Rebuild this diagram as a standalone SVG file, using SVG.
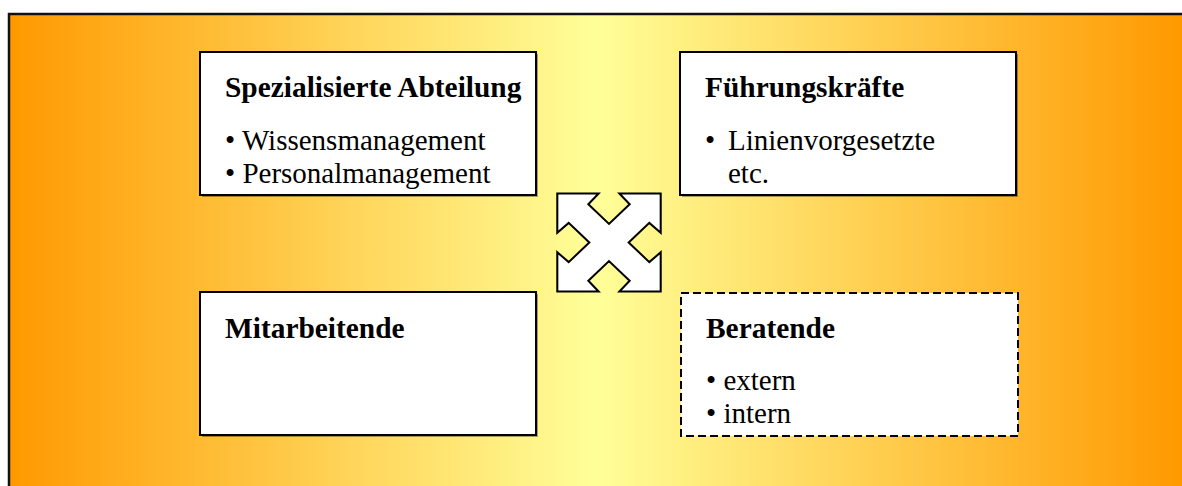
<svg xmlns="http://www.w3.org/2000/svg" width="1182" height="486" viewBox="0 0 1182 486">
  <defs>
    <linearGradient id="bgGrad" gradientUnits="userSpaceOnUse" x1="9" y1="0" x2="1182" y2="0">
      <stop offset="0" stop-color="#FF9900"/>
      <stop offset="0.5" stop-color="#FFFF99"/>
      <stop offset="1" stop-color="#FF9900"/>
    </linearGradient>
  </defs>
  <style>
    .box { fill: #FFFFFF; stroke: #000000; stroke-width: 2; }
    .dashed { stroke-dasharray: 8 4; }
    .shadow { fill: #000000; opacity: 0.35; }
    .title { font-family: "Liberation Serif", "Times New Roman", serif; font-size: 29.4px; font-weight: bold; fill: #000000; }
    .item { font-family: "Liberation Serif", "Times New Roman", serif; font-size: 29px; fill: #000000; }
    .cross { fill: #FFFFFF; stroke: #000000; stroke-width: 2; stroke-linejoin: miter; }
  </style>

  <!-- white page background -->
  <rect x="0" y="0" width="1182" height="486" fill="#FFFFFF"/>

  <!-- gradient panel, running off the right and bottom edges -->
  <rect id="panel" x="9" y="14" width="1200" height="500" fill="url(#bgGrad)" stroke="#111111" stroke-width="2.5"/>

  <g id="node-abteilung">
    <rect class="shadow" x="202" y="54" width="336" height="143"/>
    <rect class="box" x="200" y="52" width="336" height="143"/>
    <text class="title" x="225" y="97">Spezialisierte Abteilung</text>
    <text class="item" x="225" y="150">• Wissensmanagement</text>
    <text class="item" x="225" y="183">• Personalmanagement</text>
  </g>

  <g id="node-fuehrung">
    <rect class="shadow" x="682" y="54" width="336" height="143"/>
    <rect class="box" x="680" y="52" width="336" height="143"/>
    <text class="title" x="705" y="97">Führungskräfte</text>
    <text class="item" x="705" y="150">•</text>
    <text class="item" x="728" y="150">Linienvorgesetzte</text>
    <text class="item" x="728" y="183">etc.</text>
  </g>

  <g id="node-mitarbeitende">
    <rect class="shadow" x="202" y="294" width="336" height="143"/>
    <rect class="box" x="200" y="292" width="336" height="143"/>
    <text class="title" x="225" y="338">Mitarbeitende</text>
  </g>

  <g id="node-beratende">
    <rect class="box dashed" x="681" y="293" width="337" height="143"/>
    <text class="title" x="706" y="338">Beratende</text>
    <text class="item" x="706" y="390">• extern</text>
    <text class="item" x="706" y="423">• intern</text>
  </g>

  <!-- four-way diagonal arrow linking the four groups -->
  <g id="connectors">
    <path class="cross" transform="translate(609 242.5) scale(1.034 0.98)"
          d="M-50,-50 L-10,-50 L-20,-39 L0,-19 L20,-39 L10,-50 L50,-50
             L50,-10 L39,-20 L19,0 L39,20 L50,10 L50,50
             L10,50 L20,39 L0,19 L-20,39 L-10,50 L-50,50
             L-50,10 L-39,20 L-19,0 L-39,-20 L-50,-10 Z"/>
  </g>
</svg>
